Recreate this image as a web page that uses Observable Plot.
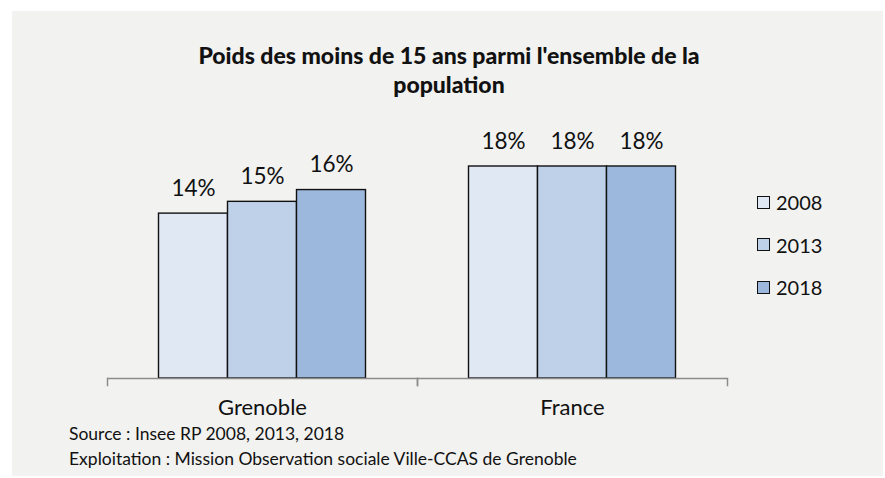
<!DOCTYPE html>
<html>
<head>
<meta charset="utf-8">
<script src="https://cdn.jsdelivr.net/npm/d3@7"></script>
<script src="https://cdn.jsdelivr.net/npm/@observablehq/plot@0.6"></script>
<style>
  html, body { margin: 0; padding: 0; background: #ffffff; }
  body { width: 885px; height: 478px; position: relative; overflow: hidden; font-family: Lato, "Open Sans", sans-serif; color: #111; }
  #panel { position: absolute; left: 12px; top: 11px; width: 871px; height: 465px; background: #f2f2f0; }
  #chart { position: absolute; left: 0; top: 0; }
  #title { position: absolute; left: 49px; width: 800px; top: 41px; text-align: center; font-weight: 900; font-size: 23px; line-height: 29px; color: #111; }
  #legend { position: absolute; left: 757px; top: 181px; }
  .item { display: flex; align-items: center; height: 42.5px; font-size: 20px; }
  .sw { width: 11px; height: 11px; border: 1.5px solid #111; margin-right: 6px; }
  #caption { position: absolute; left: 69px; top: 421px; font-size: 17.5px; line-height: 25px; color: #111; }
</style>
</head>
<body>
<div id="panel"></div>
<div id="chart"></div>
<div id="title"></div>
<div id="legend"></div>
<div id="caption"></div>
<script>
const titleLines = ["Poids des moins de 15 ans parmi l'ensemble de la", "population"];
const regions = ["Grenoble", "France"];
const years = ["2008", "2013", "2018"];
const grenobleValues = [14, 15, 16];
const franceValues = [18, 18, 18];
const colors = ["#dfe8f3", "#bfd1e9", "#9db8dd"];
const sourceLines = ["Source : Insee RP 2008, 2013, 2018", "Exploitation : Mission Observation sociale Ville-CCAS de Grenoble"];

const seriesByRegion = [grenobleValues, franceValues];
const data = regions.flatMap((r, i) => years.map((y, j) => ({region: r, year: y, value: seriesByRegion[i][j]})));

const marginTop = 100, height = 440, marginBottom = 55;
const frameBottom = height - marginBottom;

const chart = Plot.plot({
  width: 885,
  height,
  marginTop,
  marginBottom,
  marginLeft: 106.5,
  marginRight: 158.5,
  style: {background: "transparent", color: "#111", fontFamily: "Lato, sans-serif"},
  fx: {domain: regions, padding: 0, label: null},
  x: {domain: years, paddingInner: 0, paddingOuter: 0.743, axis: null},
  y: {domain: [0, 18], range: [378, 166], axis: null},
  color: {domain: years, range: colors},
  marks: [
    Plot.barY(data, {fx: "region", x: "year", y: "value", fill: "year", stroke: "#111", strokeWidth: 1.4}),
    Plot.ruleY([0], {stroke: "#8c8c8c", strokeWidth: 1.5}),
    Plot.frame({anchor: "left", stroke: "#8c8c8c", strokeWidth: 1.5, insetTop: frameBottom - marginTop - 7}),
    Plot.frame({anchor: "right", stroke: "#8c8c8c", strokeWidth: 1.5, insetTop: frameBottom - marginTop - 7}),
    Plot.text(data, {fx: "region", x: "year", y: "value", text: d => d.value + "%", dy: -25, lineAnchor: "middle", fontSize: 22.5, fill: "#111"}),
    Plot.axisFx({anchor: "bottom", tickSize: 0, tickPadding: 14, fontSize: 22, label: null, fill: "#111"})
  ]
});
document.getElementById("chart").appendChild(chart);

document.getElementById("title").innerHTML = titleLines.join("<br>");
const legend = document.getElementById("legend");
years.forEach((y, i) => {
  const item = document.createElement("div");
  item.className = "item";
  const sw = document.createElement("div");
  sw.className = "sw";
  sw.style.background = colors[i];
  const t = document.createElement("span");
  t.textContent = y;
  item.appendChild(sw);
  item.appendChild(t);
  legend.appendChild(item);
});
document.getElementById("caption").innerHTML = sourceLines.join("<br>");
</script>
</body>
</html>
